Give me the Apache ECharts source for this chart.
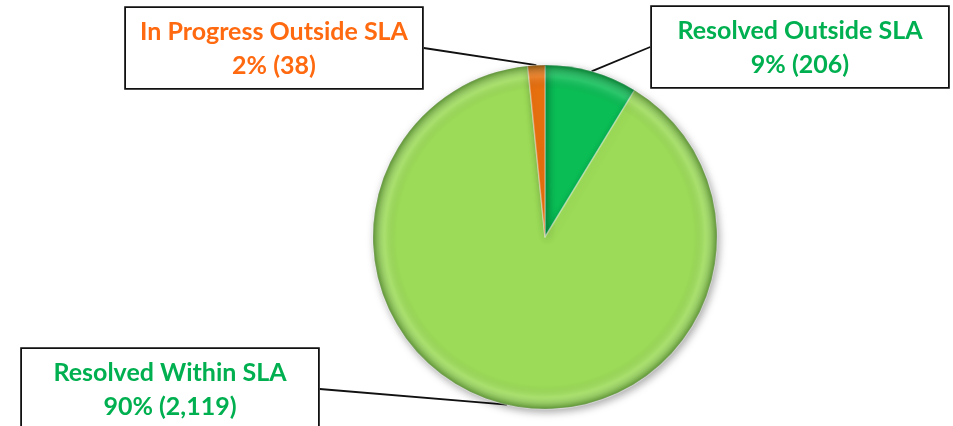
<!DOCTYPE html>
<html>
<head>
<meta charset="utf-8">
<script src="https://cdn.jsdelivr.net/npm/echarts@6/dist/echarts.min.js"></script>
<style>
  html, body { margin: 0; padding: 0; background: #fff; }
  #main { width: 953px; height: 426px; }
</style>
</head>
<body>
<div id="main"></div>
<script>
// slices in clockwise order from 12 o'clock
const categories = ['Resolved Outside SLA', 'Resolved Within SLA', 'In Progress Outside SLA']
const counts = [206, 2119, 38]
const sliceColors = ['#0BBD55', '#9CDB58', '#E8700F']
const textColors = ['#00B050', '#00B050', '#FF6A10']

const total = counts.reduce((a, b) => a + b, 0)
const pieData = categories.map((name, i) => ({
  name: name,
  value: counts[i],
  itemStyle: { color: sliceColors[i] },
  label: { rich: { t: { color: textColors[i] } } }
}))

// callout box centres
const boxPos = [
  { x: 800, y: 47 },
  { x: 170, y: 389 },
  { x: 274, y: 48 }
]

const chart = echarts.init(document.getElementById('main'))
const option = {
  animation: false,
  series: [
    {
      type: 'pie',
      center: [545, 237],
      radius: 172,
      startAngle: 90,
      clockwise: true,
      data: pieData,
      itemStyle: {
        borderColor: 'rgba(255,255,255,0.35)',
        borderWidth: 1.5,
        shadowBlur: 8,
        shadowOffsetX: 2,
        shadowOffsetY: 3,
        shadowColor: 'rgba(0,0,0,0.35)'
      },
      label: {
        show: true,
        position: 'outside',
        formatter: p => {
          const pct = Math.round(p.value / total * 100)
          return '{t|' + p.name + '}\n{t|' + pct + '% (' + p.value.toLocaleString('en-US') + ')}'
        },
        backgroundColor: '#fff',
        borderColor: '#111',
        borderWidth: 1.8,
        width: 272,
        padding: [7, 12, 5, 12],
        align: 'center',
        rich: {
          t: {
            fontFamily: 'Lato',
            fontWeight: 'bold',
            fontSize: 25,
            lineHeight: 34,
            align: 'center'
          }
        }
      },
      labelLine: {
        show: true,
        length: 0,
        length2: 0,
        lineStyle: { color: '#111', width: 1.8 }
      },
      labelLayout: p => ({
        x: boxPos[p.dataIndex].x,
        y: boxPos[p.dataIndex].y,
        align: 'center',
        verticalAlign: 'middle'
      })
    },
    {
      // bevel shading overlay
      type: 'pie',
      silent: true,
      center: [545, 237],
      radius: 172,
      startAngle: 90,
      data: counts.map(v => ({ value: v })),
      label: { show: false },
      labelLine: { show: false },
      itemStyle: {
        color: {
          type: 'radial', x: 545, y: 237, r: 172, global: true,
          colorStops: [
            { offset: 0, color: 'rgba(0,0,0,0)' },
            { offset: 0.86, color: 'rgba(0,0,0,0)' },
            { offset: 0.93, color: 'rgba(255,255,255,0.12)' },
            { offset: 1, color: 'rgba(0,40,0,0.4)' }
          ]
        }
      }
    }
  ]
}
chart.setOption(option)
</script>
</body>
</html>
